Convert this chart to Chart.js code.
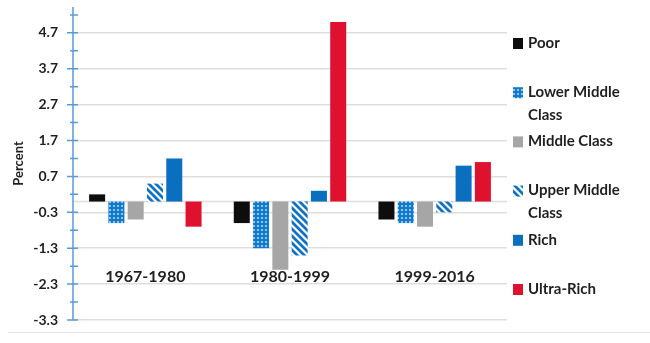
<!DOCTYPE html>
<html>
<head>
<meta charset="utf-8">
<script src="https://cdn.jsdelivr.net/npm/chart.js@4.4.1/dist/chart.umd.min.js"></script>
<style>
  html, body { margin: 0; padding: 0; background: #fff; }
  #wrap { width: 650px; height: 343px; position: relative; }
</style>
</head>
<body>
<div id="wrap"><canvas id="chart"></canvas></div>
<script>
// data
const periods = ['1967-1980', '1980-1999', '1999-2016'];
const seriesNames = ['Poor', 'Lower Middle Class', 'Middle Class', 'Upper Middle Class', 'Rich', 'Ultra-Rich'];
const poor = [0.2, -0.6, -0.5];
const lowerMiddle = [-0.6, -1.3, -0.6];
const middle = [-0.5, -1.9, -0.7];
const upperMiddle = [0.5, -1.5, -0.3];
const rich = [1.2, 0.3, 1.0];
const ultraRich = [-0.7, 5.0, 1.1];
const yTickValues = [-3.3, -2.3, -1.3, -0.3, 0.7, 1.7, 2.7, 3.7, 4.7];

const FONT = 'Lato, "Noto Sans", sans-serif';
const TEXT = '#1f1f1f';

// fill patterns
function dotPattern() {
  const c = document.createElement('canvas');
  c.width = 4; c.height = 4;
  const g = c.getContext('2d');
  g.fillStyle = '#1279cc';
  g.fillRect(0, 0, 4, 4);
  g.fillStyle = '#8ec8f2';
  g.fillRect(1, 1, 2, 2);
  return g.createPattern(c, 'repeat');
}
function stripePattern() {
  const s = 7;
  const c = document.createElement('canvas');
  c.width = s; c.height = s;
  const g = c.getContext('2d');
  g.fillStyle = '#ffffff';
  g.fillRect(0, 0, s, s);
  g.strokeStyle = '#1072c4';
  g.lineWidth = 2.8;
  g.beginPath();
  g.moveTo(-1, -1); g.lineTo(s + 1, s + 1);
  g.moveTo(s - 2, -2); g.lineTo(s + 2, 2);
  g.moveTo(-2, s - 2); g.lineTo(2, s + 2);
  g.stroke();
  return g.createPattern(c, 'repeat');
}

const colors = ['#0d0d0d', dotPattern(), '#a6a6a6', stripePattern(), '#0b6fbf', '#e0102f'];
const values = [poor, lowerMiddle, middle, upperMiddle, rich, ultraRich];

// axis line, zero line, period labels and legend
const decorations = {
  id: 'decorations',
  beforeDatasetsDraw(chart) {
    const { ctx, chartArea: a, scales: { y } } = chart;
    ctx.save();
    const y0 = y.getPixelForValue(0);
    ctx.strokeStyle = '#dedede';
    ctx.lineWidth = 1.5;
    ctx.beginPath();
    ctx.moveTo(a.left, y0);
    ctx.lineTo(a.right, y0);
    ctx.stroke();
    // faint line under the chart
    ctx.strokeStyle = '#e4e4e4';
    ctx.lineWidth = 1;
    ctx.beginPath();
    ctx.moveTo(8, a.bottom + 12.5);
    ctx.lineTo(650, a.bottom + 12.5);
    ctx.stroke();
    ctx.restore();
  },
  afterDatasetsDraw(chart) {
    const { ctx, chartArea: a, scales: { x, y } } = chart;
    ctx.save();
    // blue value axis with major and minor ticks
    ctx.strokeStyle = '#5b9bd5';
    ctx.lineWidth = 1.5;
    ctx.beginPath();
    ctx.moveTo(a.left, a.top);
    ctx.lineTo(a.left, a.bottom);
    yTickValues.forEach(v => {
      const py = y.getPixelForValue(v);
      ctx.moveTo(a.left - 6, py);
      ctx.lineTo(a.left + 5, py);
      const pm = y.getPixelForValue(v + 0.5);
      if (pm > a.top) {
        ctx.moveTo(a.left - 3, pm);
        ctx.lineTo(a.left + 5, pm);
      }
    });
    ctx.stroke();

    // period labels inside the plot
    ctx.fillStyle = TEXT;
    ctx.font = 'bold 16px ' + FONT;
    ctx.textAlign = 'center';
    ctx.textBaseline = 'middle';
    periods.forEach((p, i) => {
      ctx.fillText(p, x.getPixelForValue(i), y.getPixelForValue(-2.1));
    });

    // legend on the right
    ctx.font = 'bold 15px ' + FONT;
    ctx.textAlign = 'left';
    const boxX = a.right + 6;
    const textX = a.right + 21;
    chart.data.datasets.forEach((ds, i) => {
      const top = 43 + i * 49.2;
      ctx.fillStyle = ds.backgroundColor;
      ctx.fillRect(boxX, top - 5, 10, 11);
      ctx.fillStyle = TEXT;
      const words = ds.label.split(' ');
      const lines = [];
      let line = '';
      words.forEach(w => {
        const t = line ? line + ' ' + w : w;
        if (ctx.measureText(t).width > 112 && line) {
          lines.push(line);
          line = w;
        } else {
          line = t;
        }
      });
      lines.push(line);
      lines.forEach((l, k) => ctx.fillText(l, textX, top + k * 22.5));
    });
    ctx.restore();
  }
};

new Chart(document.getElementById('chart'), {
  type: 'bar',
  data: {
    labels: periods,
    datasets: seriesNames.map((name, i) => ({
      label: name,
      data: values[i],
      backgroundColor: colors[i],
      borderWidth: 0,
      categoryPercentage: 0.8,
      barPercentage: 0.83
    }))
  },
  options: {
    responsive: true,
    maintainAspectRatio: false,
    animation: false,
    layout: { padding: { top: 7, bottom: 23, right: 143, left: 0 } },
    plugins: {
      legend: { display: false },
      tooltip: { enabled: false }
    },
    scales: {
      x: { display: false },
      y: {
        min: -3.3,
        max: 5.42,
        afterBuildTicks: scale => { scale.ticks = yTickValues.map(v => ({ value: v })); },
        afterFit: scale => {
          scale.width = 73;
          scale.paddingTop = 0;
          scale.paddingBottom = 0;
        },
        border: { display: false },
        grid: { color: '#dedede', lineWidth: 1.5, drawTicks: false },
        ticks: {
          padding: 15,
          color: TEXT,
          font: { family: FONT, size: 14, weight: 'bold' },
          callback: v => v.toFixed(1)
        },
        title: {
          display: true,
          text: 'Percent',
          color: TEXT,
          font: { family: FONT, size: 13, weight: 'bold' },
          padding: { top: 11, bottom: 0 }
        }
      }
    }
  },
  plugins: [decorations]
});
</script>
</body>
</html>
